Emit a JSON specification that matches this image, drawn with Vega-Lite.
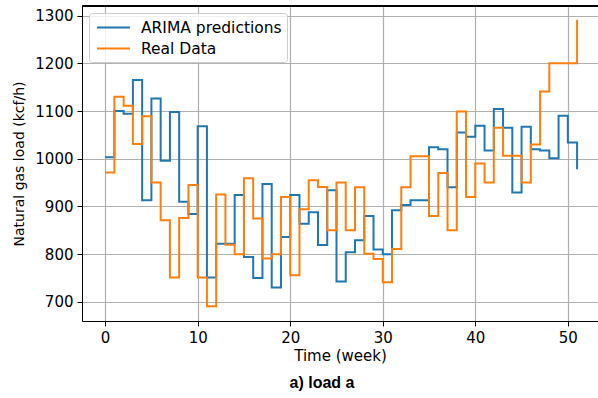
{
  "$schema": "https://vega.github.io/schema/vega-lite/v6.json",
  "autosize": {"type": "none"},
  "width": 516,
  "height": 315,
  "padding": {"left": 82, "top": 6, "right": 0, "bottom": 77},
  "background": "white",
  "config": {
    "view": {"stroke": null},
    "font": "DejaVu Sans",
    "axis": {
      "labelFont": "DejaVu Sans", "labelFontSize": 15, "labelColor": "black",
      "titleFont": "DejaVu Sans", "titleFontSize": 15, "titleFontWeight": "normal", "titleColor": "black",
      "domainColor": "black", "domainWidth": 1, "tickColor": "black", "tickWidth": 1, "tickSize": 5,
      "gridColor": "#b0b0b0", "gridWidth": 1.2, "labelPadding": 4
    },
    "legend": {
      "labelFont": "DejaVu Sans", "labelFontSize": 15.5, "labelColor": "black"
    }
  },
  "data": {"values": [
    {"week":0,"series":"ARIMA predictions","load":1003},
    {"week":1,"series":"ARIMA predictions","load":1100},
    {"week":2,"series":"ARIMA predictions","load":1094},
    {"week":3,"series":"ARIMA predictions","load":1165},
    {"week":4,"series":"ARIMA predictions","load":913},
    {"week":5,"series":"ARIMA predictions","load":1126},
    {"week":6,"series":"ARIMA predictions","load":996},
    {"week":7,"series":"ARIMA predictions","load":1098},
    {"week":8,"series":"ARIMA predictions","load":910},
    {"week":9,"series":"ARIMA predictions","load":884},
    {"week":10,"series":"ARIMA predictions","load":1068},
    {"week":11,"series":"ARIMA predictions","load":751},
    {"week":12,"series":"ARIMA predictions","load":822},
    {"week":13,"series":"ARIMA predictions","load":822},
    {"week":14,"series":"ARIMA predictions","load":924},
    {"week":15,"series":"ARIMA predictions","load":794},
    {"week":16,"series":"ARIMA predictions","load":750},
    {"week":17,"series":"ARIMA predictions","load":947},
    {"week":18,"series":"ARIMA predictions","load":730},
    {"week":19,"series":"ARIMA predictions","load":836},
    {"week":20,"series":"ARIMA predictions","load":924},
    {"week":21,"series":"ARIMA predictions","load":864},
    {"week":22,"series":"ARIMA predictions","load":888},
    {"week":23,"series":"ARIMA predictions","load":819},
    {"week":24,"series":"ARIMA predictions","load":934},
    {"week":25,"series":"ARIMA predictions","load":743},
    {"week":26,"series":"ARIMA predictions","load":804},
    {"week":27,"series":"ARIMA predictions","load":829},
    {"week":28,"series":"ARIMA predictions","load":880},
    {"week":29,"series":"ARIMA predictions","load":810},
    {"week":30,"series":"ARIMA predictions","load":800},
    {"week":31,"series":"ARIMA predictions","load":892},
    {"week":32,"series":"ARIMA predictions","load":903},
    {"week":33,"series":"ARIMA predictions","load":913},
    {"week":34,"series":"ARIMA predictions","load":913},
    {"week":35,"series":"ARIMA predictions","load":1024},
    {"week":36,"series":"ARIMA predictions","load":1020},
    {"week":37,"series":"ARIMA predictions","load":940},
    {"week":38,"series":"ARIMA predictions","load":1055},
    {"week":39,"series":"ARIMA predictions","load":1046},
    {"week":40,"series":"ARIMA predictions","load":1069},
    {"week":41,"series":"ARIMA predictions","load":1017},
    {"week":42,"series":"ARIMA predictions","load":1104},
    {"week":43,"series":"ARIMA predictions","load":1065},
    {"week":44,"series":"ARIMA predictions","load":929},
    {"week":45,"series":"ARIMA predictions","load":1067},
    {"week":46,"series":"ARIMA predictions","load":1020},
    {"week":47,"series":"ARIMA predictions","load":1017},
    {"week":48,"series":"ARIMA predictions","load":1001},
    {"week":49,"series":"ARIMA predictions","load":1090},
    {"week":50,"series":"ARIMA predictions","load":1034},
    {"week":51,"series":"ARIMA predictions","load":978},
    {"week":0,"series":"Real Data","load":971},
    {"week":1,"series":"Real Data","load":1130},
    {"week":2,"series":"Real Data","load":1111},
    {"week":3,"series":"Real Data","load":1031},
    {"week":4,"series":"Real Data","load":1089},
    {"week":5,"series":"Real Data","load":950},
    {"week":6,"series":"Real Data","load":871},
    {"week":7,"series":"Real Data","load":751},
    {"week":8,"series":"Real Data","load":876},
    {"week":9,"series":"Real Data","load":945},
    {"week":10,"series":"Real Data","load":751},
    {"week":11,"series":"Real Data","load":691},
    {"week":12,"series":"Real Data","load":925},
    {"week":13,"series":"Real Data","load":820},
    {"week":14,"series":"Real Data","load":800},
    {"week":15,"series":"Real Data","load":959},
    {"week":16,"series":"Real Data","load":875},
    {"week":17,"series":"Real Data","load":791},
    {"week":18,"series":"Real Data","load":800},
    {"week":19,"series":"Real Data","load":920},
    {"week":20,"series":"Real Data","load":756},
    {"week":21,"series":"Real Data","load":894},
    {"week":22,"series":"Real Data","load":955},
    {"week":23,"series":"Real Data","load":941},
    {"week":24,"series":"Real Data","load":850},
    {"week":25,"series":"Real Data","load":950},
    {"week":26,"series":"Real Data","load":850},
    {"week":27,"series":"Real Data","load":940},
    {"week":28,"series":"Real Data","load":801},
    {"week":29,"series":"Real Data","load":790},
    {"week":30,"series":"Real Data","load":741},
    {"week":31,"series":"Real Data","load":811},
    {"week":32,"series":"Real Data","load":940},
    {"week":33,"series":"Real Data","load":1005},
    {"week":34,"series":"Real Data","load":1005},
    {"week":35,"series":"Real Data","load":880},
    {"week":36,"series":"Real Data","load":970},
    {"week":37,"series":"Real Data","load":850},
    {"week":38,"series":"Real Data","load":1099},
    {"week":39,"series":"Real Data","load":920},
    {"week":40,"series":"Real Data","load":990},
    {"week":41,"series":"Real Data","load":950},
    {"week":42,"series":"Real Data","load":1065},
    {"week":43,"series":"Real Data","load":1006},
    {"week":44,"series":"Real Data","load":1006},
    {"week":45,"series":"Real Data","load":950},
    {"week":46,"series":"Real Data","load":1030},
    {"week":47,"series":"Real Data","load":1141},
    {"week":48,"series":"Real Data","load":1200},
    {"week":49,"series":"Real Data","load":1200},
    {"week":50,"series":"Real Data","load":1200},
    {"week":51,"series":"Real Data","load":1291}
  ]},
  "title": {"text": "a) load a", "orient": "bottom", "font": "Liberation Sans", "fontSize": 16, "fontWeight": "bold", "color": "black", "offset": 12, "dx": -18},
  "layer": [
    {
      "mark": {"type": "line", "interpolate": "step-after", "strokeWidth": 2, "clip": true},
      "encoding": {
        "x": {"field": "week", "type": "quantitative", "scale": {"domain": [-2.5, 53.26], "nice": false, "zero": false},
              "axis": {"values": [0,10,20,30,40,50], "title": "Time (week)", "titlePadding": 3}},
        "y": {"field": "load", "type": "quantitative", "scale": {"domain": [660, 1320], "nice": false, "zero": false},
              "axis": {"values": [700,800,900,1000,1100,1200,1300], "format": "d", "title": "Natural gas load (kcf/h)", "titleFontSize": 14, "titlePadding": 8}},
        "color": {"field": "series", "type": "nominal",
                  "scale": {"domain": ["ARIMA predictions", "Real Data"], "range": ["#1f77b4", "#ff7f0e"]},
                  "legend": {"title": null, "orient": "top-left", "offset": 7, "symbolType": "M-2,0H2", "symbolSize": 272,
                             "symbolStrokeWidth": 2, "padding": 5, "symbolOffset": 10, "labelOffset": 18, "rowPadding": 3,
                             "strokeColor": "#cccccc", "fillColor": "rgba(255,255,255,0.8)", "cornerRadius": 3}}
      }
    },
    {
      "mark": {"type": "rule", "color": "black", "strokeWidth": 1},
      "encoding": {"y": {"datum": 1320}}
    }
  ]
}
